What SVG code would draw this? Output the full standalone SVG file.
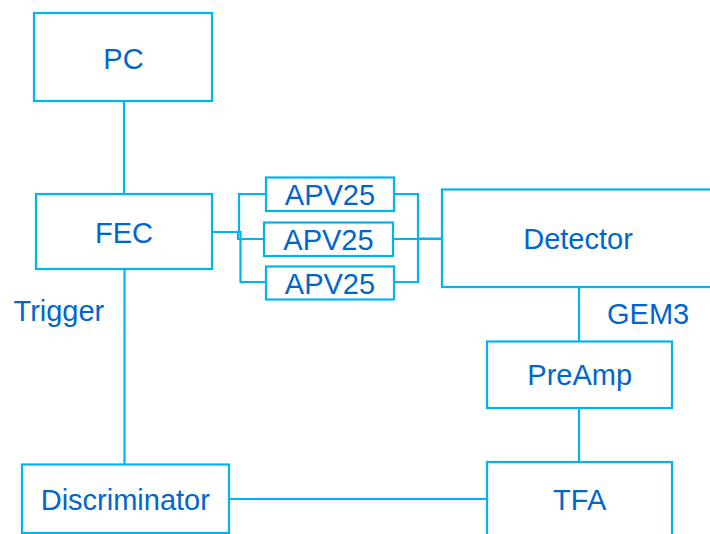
<svg xmlns="http://www.w3.org/2000/svg" width="710" height="534" viewBox="0 0 710 534">
  <style>
    .box { fill: #ffffff; stroke: #00B4F0; stroke-width: 2.2; }
    .wire { fill: none; stroke: #00B4F0; stroke-width: 2.2; }
    .lbl { font-family: "Liberation Sans", Arial, sans-serif; font-size: 29px; fill: #0066CC; text-anchor: middle; }
    .free { text-anchor: start; }
  </style>
  <rect width="710" height="534" fill="#ffffff"/>

  <!-- connectors -->
  <g id="connectors">
    <path class="wire" d="M124 101 V194"/>
    <path class="wire" d="M124.5 269 V464"/>
    <path class="wire" d="M212 232 H239 V194 H266"/>
    <path class="wire" d="M212 232 H238 V239 H264"/>
    <path class="wire" d="M212 232 H240.5 V282 H266"/>
    <path class="wire" d="M394 194 H418 V238.5 H442"/>
    <path class="wire" d="M393 239 H442"/>
    <path class="wire" d="M394 282 H418 V238.5"/>
    <path class="wire" d="M579 287 V341"/>
    <path class="wire" d="M579 408 V462"/>
    <path class="wire" d="M229 499 H487"/>
  </g>

  <g id="pc">
    <rect class="box" x="34" y="13" width="178" height="88"/>
    <text class="lbl" x="123.5" y="68.5">PC</text>
  </g>
  <g id="fec">
    <rect class="box" x="36" y="194" width="176" height="75"/>
    <text class="lbl" x="124" y="242.7">FEC</text>
  </g>
  <g id="apv1">
    <rect class="box" x="266" y="177.5" width="128" height="33.5"/>
    <text class="lbl" x="330" y="204.5">APV25</text>
  </g>
  <g id="apv2">
    <rect class="box" x="264" y="222.5" width="129" height="33.5"/>
    <text class="lbl" x="328.5" y="250">APV25</text>
  </g>
  <g id="apv3">
    <rect class="box" x="266" y="266.5" width="128" height="33"/>
    <text class="lbl" x="330" y="293.5">APV25</text>
  </g>
  <g id="detector">
    <rect class="box" x="442" y="189.5" width="280" height="97.5"/>
    <text class="lbl" x="578" y="249.3">Detector</text>
  </g>
  <g id="preamp">
    <rect class="box" x="487" y="341.5" width="185" height="66.5"/>
    <text class="lbl" x="579.7" y="384.5">PreAmp</text>
  </g>
  <g id="tfa">
    <rect class="box" x="487" y="462" width="185" height="90"/>
    <text class="lbl" x="579.7" y="510">TFA</text>
  </g>
  <g id="discriminator">
    <rect class="box" x="22" y="464.5" width="207" height="68.5"/>
    <text class="lbl" x="125.3" y="510">Discriminator</text>
  </g>

  <text class="lbl free" x="13.5" y="320.7">Trigger</text>
  <text class="lbl free" x="607" y="324.3">GEM3</text>
</svg>
